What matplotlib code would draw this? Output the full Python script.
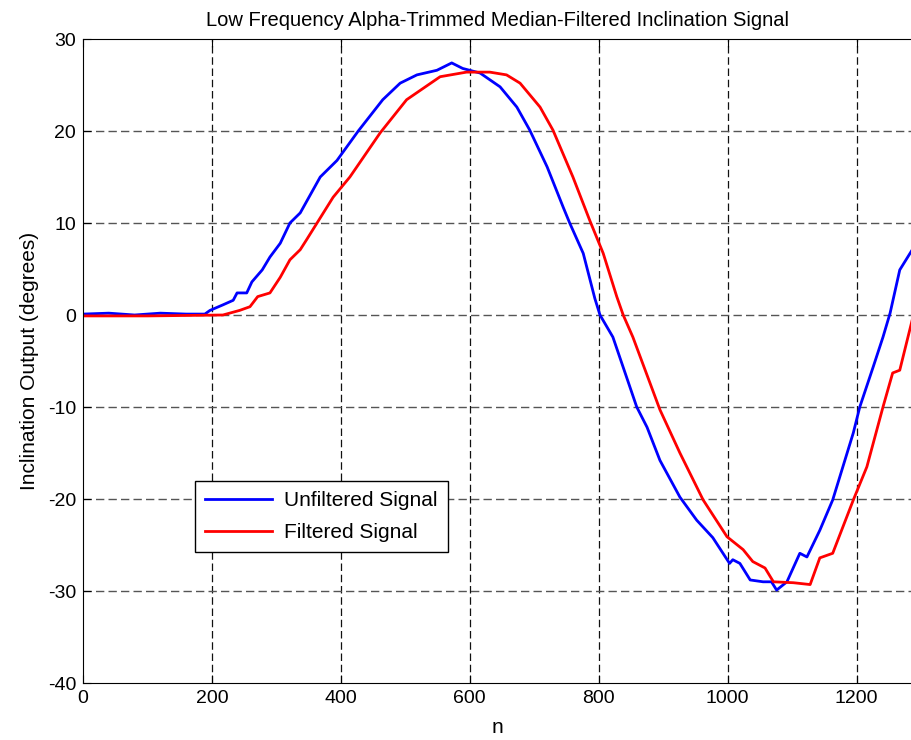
import numpy as np
import matplotlib.pyplot as plt

plt.rcParams.update({"font.family": ["Liberation Sans", "DejaVu Sans"], "font.size": 14,
                     "axes.unicode_minus": False})

# keypoints (sample index n, degrees)
n_unfilt = [0, 40, 80, 120, 160, 189, 197, 217, 233, 239, 254, 262, 278, 290, 306,
            321, 337, 368, 394, 427, 465, 492, 518, 549, 572, 589, 616, 647, 673,
            693, 720, 745, 755, 776, 794, 802, 822, 859, 875, 895, 926, 952, 977,
            1003, 1008, 1019, 1035, 1055, 1068, 1076, 1092, 1112, 1123, 1143,
            1163, 1195, 1205, 1226, 1241, 1252, 1267, 1290]
unfiltered = [0.1, 0.2, 0.0, 0.2, 0.1, 0.1, 0.5, 1.1, 1.6, 2.4, 2.4, 3.6, 4.9, 6.3, 7.8,
              10.0, 11.1, 15.0, 16.8, 20.0, 23.4, 25.2, 26.1, 26.6, 27.4, 26.8, 26.3,
              24.8, 22.6, 20.1, 16.1, 11.7, 10.0, 6.7, 1.8, 0.0, -2.4, -10.0, -12.2,
              -15.8, -19.8, -22.3, -24.2, -27.0, -26.6, -27.0, -28.8, -29.0, -29.0,
              -29.9, -29.0, -25.9, -26.3, -23.4, -20.1, -12.8, -10.0, -5.6, -2.4,
              0.2, 4.9, 7.5]

n_filt = [0, 100, 217, 243, 259, 271, 290, 306, 321, 337, 347, 388, 414, 461, 502,
          554, 595, 631, 657, 678, 709, 729, 760, 786, 807, 828, 838, 853, 895,
          926, 962, 999, 1024, 1039, 1058, 1071, 1102, 1128, 1143, 1163, 1195,
          1216, 1241, 1256, 1267, 1290]
filtered = [-0.1, -0.1, 0.0, 0.5, 0.9, 2.0, 2.4, 4.1, 6.0, 7.1, 8.2, 12.8, 15.0, 19.8,
            23.4, 25.9, 26.4, 26.4, 26.1, 25.2, 22.6, 20.1, 15.0, 10.3, 6.7, 2.0, 0.0,
            -2.4, -10.3, -15.0, -20.1, -24.1, -25.5, -26.8, -27.5, -29.0, -29.1,
            -29.3, -26.4, -25.9, -20.1, -16.5, -10.0, -6.3, -6.0, 0.5]

x_ticks = [0, 200, 400, 600, 800, 1000, 1200]
y_ticks = [-40, -30, -20, -10, 0, 10, 20, 30]

fig = plt.figure(figsize=(9.12, 7.4), dpi=100)
ax = fig.add_axes([83 / 912, 1 - 683 / 740, 1 - 83 / 912, 644 / 740])

ax.plot(n_unfilt, unfiltered, color="#0000ff", lw=2, label="Unfiltered Signal")
ax.plot(n_filt, filtered, color="#ff0000", lw=2, label="Filtered Signal")

ax.set_xlim(0, 1286)
ax.set_ylim(-40, 30)
ax.set_xticks(x_ticks)
ax.set_yticks(y_ticks)
ax.tick_params(direction="in", length=6, top=True, right=False, labelsize=14, pad=5)
ax.spines["right"].set_visible(False)

for x in x_ticks[1:]:
    ax.axvline(x, color="#111111", lw=0.9, ls=(0, (6, 3)), zorder=0)
for y in y_ticks[1:-1]:
    ax.axhline(y, color="#555555", lw=1.0, ls=(0, (6, 3)), zorder=0)

ax.set_title("Low Frequency Alpha-Trimmed Median-Filtered Inclination Signal", fontsize=14.5, pad=9)
ax.set_xlabel("n", fontsize=15, labelpad=8)
ax.set_ylabel("Inclination Output (degrees)", fontsize=15, labelpad=6)

leg = ax.legend(loc="lower left", bbox_to_anchor=(0.135, 0.203), borderaxespad=0,
                fancybox=False, edgecolor="black", framealpha=1, fontsize=15,
                handlelength=3.2, handletextpad=0.6, borderpad=0.5, labelspacing=0.6)
leg.get_frame().set_linewidth(1)

fig.savefig("out.png", dpi=100)
